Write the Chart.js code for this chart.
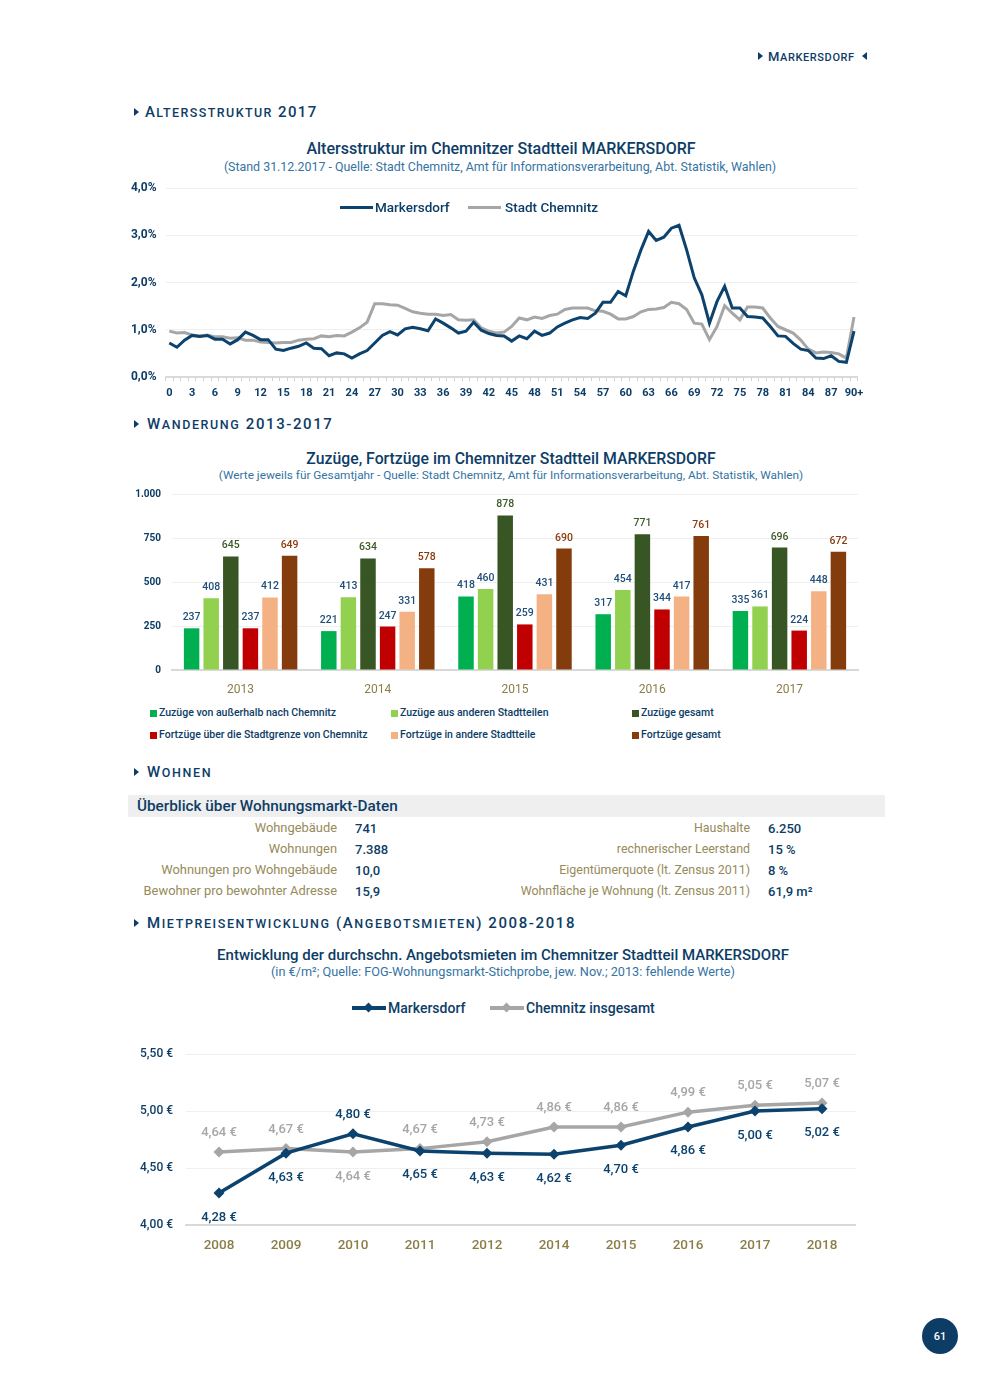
<!DOCTYPE html>
<html><head><meta charset="utf-8">
<script src="https://cdn.jsdelivr.net/npm/chart.js@4.4.1/dist/chart.umd.min.js"></script>
<style>
html,body{margin:0;padding:0;background:#fff;}
body{width:990px;height:1389px;position:relative;overflow:hidden;font-family:Roboto,"Open Sans",sans-serif;color:#0d3d66;}
.t{position:absolute;white-space:nowrap;line-height:1;}
.c{transform:translateX(-50%);}
.r{transform:translateX(-100%);}
.tri{position:absolute;width:0;height:0;border-top:4.5px solid transparent;border-bottom:4.5px solid transparent;border-left:5px solid #0d3d66;}
.tril{position:absolute;width:0;height:0;border-top:4.5px solid transparent;border-bottom:4.5px solid transparent;border-right:5px solid #0d3d66;}
.box{position:absolute;}
.sec{font-weight:500;letter-spacing:1.6px;}
.lbl{color:#968a5a;font-size:12.9px;}
.val{color:#0d3d66;font-size:13px;font-weight:500;}
.sq{position:absolute;width:7px;height:7px;}
.lg{font-size:10.5px;font-weight:500;color:#0d3d66;}
.sub{color:#3573a3;}
canvas{display:block;}
</style></head>
<body>
<script>
// ---------- DATA ----------
const ageLabels = ['0','1','2','3','4','5','6','7','8','9','10','11','12','13','14','15','16','17','18','19','20','21','22','23','24','25','26','27','28','29','30','31','32','33','34','35','36','37','38','39','40','41','42','43','44','45','46','47','48','49','50','51','52','53','54','55','56','57','58','59','60','61','62','63','64','65','66','67','68','69','70','71','72','73','74','75','76','77','78','79','80','81','82','83','84','85','86','87','88','89','90+'];
const markersdorfAnteil = [0.72,0.63,0.78,0.88,0.86,0.88,0.80,0.80,0.70,0.79,
 0.95,0.88,0.79,0.79,0.59,0.56,0.61,0.65,0.72,0.61,
 0.60,0.45,0.51,0.49,0.40,0.49,0.56,0.72,0.88,0.96,
 0.89,1.02,1.05,1.02,0.98,1.23,1.14,1.04,0.93,0.97,
 1.16,0.99,0.92,0.88,0.87,0.76,0.87,0.81,0.97,0.88,
 0.93,1.06,1.14,1.21,1.26,1.24,1.35,1.58,1.58,1.81,
 1.72,2.24,2.69,3.08,2.89,2.96,3.15,3.21,2.69,2.10,
 1.74,1.14,1.60,1.92,1.46,1.46,1.28,1.27,1.25,1.07,
 0.87,0.86,0.71,0.59,0.56,0.40,0.39,0.45,0.33,0.31,
 0.97];
const chemnitzAnteil = [0.97,0.93,0.94,0.89,0.87,0.89,0.85,0.85,0.82,0.83,
 0.78,0.78,0.74,0.73,0.72,0.73,0.73,0.78,0.80,0.81,
 0.87,0.85,0.88,0.87,0.95,1.04,1.16,1.55,1.55,1.53,
 1.52,1.45,1.38,1.35,1.33,1.33,1.30,1.32,1.21,1.20,
 1.21,1.04,0.97,0.93,0.95,1.07,1.25,1.21,1.27,1.24,
 1.30,1.33,1.43,1.46,1.46,1.46,1.40,1.39,1.33,1.23,
 1.23,1.28,1.38,1.43,1.44,1.47,1.58,1.55,1.43,1.14,
 1.12,0.79,1.07,1.51,1.35,1.21,1.48,1.48,1.46,1.25,
 1.07,1.00,0.93,0.78,0.59,0.51,0.53,0.52,0.49,0.40,
 1.27];

const wanderJahre = ['2013','2014','2015','2016','2017'];
const zuzuegeAussen = [237,221,418,317,335];
const zuzuegeStadtteile = [408,413,460,454,361];
const zuzuegeGesamt = [645,634,878,771,696];
const fortzuegeStadtgrenze = [237,247,259,344,224];
const fortzuegeStadtteile = [412,331,431,417,448];
const fortzuegeGesamt = [649,578,690,761,672];
const wanderSerien = ['Zuzüge von außerhalb nach Chemnitz','Zuzüge aus anderen Stadtteilen','Zuzüge gesamt',
 'Fortzüge über die Stadtgrenze von Chemnitz','Fortzüge in andere Stadtteile','Fortzüge gesamt'];

const mietJahre = ['2008','2009','2010','2011','2012','2014','2015','2016','2017','2018'];
const markersdorfMiete = [4.28,4.63,4.80,4.65,4.63,4.62,4.70,4.86,5.00,5.02];
const chemnitzMiete = [4.64,4.67,4.64,4.67,4.73,4.86,4.86,4.99,5.05,5.07];

const wohnLinks = [['Wohngebäude','741'],['Wohnungen','7.388'],['Wohnungen pro Wohngebäude','10,0'],['Bewohner pro bewohnter Adresse','15,9']];
const wohnRechts = [['Haushalte','6.250'],['rechnerischer Leerstand','15 %'],['Eigentümerquote (lt. Zensus 2011)','8 %'],['Wohnfläche je Wohnung (lt. Zensus 2011)','61,9 m²']];
</script>

<!-- header -->
<div class="tri" style="left:758px;top:51.5px"></div>
<div class="t sec" id="hdr" style="left:768px;top:49.5px;font-size:13px;letter-spacing:0.6px"></div>
<div class="tril" style="left:862px;top:51.5px"></div>

<!-- section headings -->
<div class="tri" style="left:134px;top:107.5px"></div>
<div class="t sec" data-sc="Altersstruktur 2017" style="left:145px;top:104.5px;font-size:15px;letter-spacing:1.4px"></div>
<div class="tri" style="left:134px;top:419.5px"></div>
<div class="t sec" data-sc="Wanderung 2013-2017" style="left:147px;top:416.5px;font-size:15px"></div>
<div class="tri" style="left:134px;top:767.5px"></div>
<div class="t sec" data-sc="Wohnen" style="left:147px;top:764.5px;font-size:15px"></div>
<div class="tri" style="left:134px;top:918.5px"></div>
<div class="t sec" data-sc="Mietpreisentwicklung (Angebotsmieten) 2008-2018" style="left:147px;top:915.5px;font-size:15px"></div>

<!-- chart 1 titles -->
<div class="t c" style="left:501px;top:141px;font-size:16px;font-weight:500">Altersstruktur im Chemnitzer Stadtteil MARKERSDORF</div>
<div class="t c sub" style="left:500px;top:161px;font-size:12.4px">(Stand 31.12.2017 - Quelle: Stadt Chemnitz, Amt für Informationsverarbeitung, Abt. Statistik, Wahlen)</div>
<div class="box" style="left:120px;top:180px;width:750px;height:225px"><canvas id="c1"></canvas></div>
<div class="box" style="left:340px;top:205.5px;width:33px;height:3px;background:#0c426e"></div>
<div class="t" style="left:375px;top:200.5px;font-size:13.5px;font-weight:500">Markersdorf</div>
<div class="box" style="left:468px;top:205.5px;width:33px;height:3px;background:#a6a6a6"></div>
<div class="t" style="left:505px;top:200.5px;font-size:13.5px;font-weight:500">Stadt Chemnitz</div>

<!-- chart 2 -->
<div class="t c" style="left:511px;top:451px;font-size:15.8px;font-weight:500">Zuzüge, Fortzüge im Chemnitzer Stadtteil MARKERSDORF</div>
<div class="t c sub" style="left:511px;top:470px;font-size:11.8px">(Werte jeweils für Gesamtjahr - Quelle: Stadt Chemnitz, Amt für Informationsverarbeitung, Abt. Statistik, Wahlen)</div>
<div class="box" style="left:120px;top:485px;width:750px;height:215px"><canvas id="c2"></canvas></div>
<div id="lg2"></div>

<!-- table -->
<div class="box" style="left:128px;top:795px;width:757px;height:22px;background:#efefef"></div>
<div class="t" style="left:137px;top:798.5px;font-size:15.3px;font-weight:500">Überblick über Wohnungsmarkt-Daten</div>
<div id="tbl"></div>

<!-- chart 3 -->
<div class="t c" style="left:503px;top:947.5px;font-size:15px;font-weight:500">Entwicklung der durchschn. Angebotsmieten im Chemnitzer Stadtteil MARKERSDORF</div>
<div class="t c sub" style="left:503px;top:966px;font-size:12.7px">(in €/m²; Quelle: FOG-Wohnungsmarkt-Stichprobe, jew. Nov.; 2013: fehlende Werte)</div>
<div class="box" style="left:352px;top:1006px;width:34px;height:4px;background:#0c426e"></div>
<div class="box" style="left:365px;top:1004px;width:7px;height:7px;background:#0c426e;transform:rotate(45deg)"></div>
<div class="t" style="left:388px;top:1001px;font-size:14px;font-weight:500">Markersdorf</div>
<div class="box" style="left:490px;top:1006px;width:34px;height:4px;background:#a6a6a6"></div>
<div class="box" style="left:503px;top:1004px;width:7px;height:7px;background:#a6a6a6;transform:rotate(45deg)"></div>
<div class="t" style="left:526px;top:1001px;font-size:14px;font-weight:500">Chemnitz insgesamt</div>
<div class="box" style="left:120px;top:1040px;width:750px;height:220px"><canvas id="c3"></canvas></div>

<!-- page number -->
<div class="box" style="left:922px;top:1318px;width:36px;height:36px;border-radius:50%;background:#0d3d66"></div>
<div class="t c" style="left:940px;top:1330.5px;font-size:11px;color:#fff;font-weight:500">61</div>

<script>
// small caps helper
function sc(el, text, big, small){
  let html='';
  for(const ch of text){
    if(ch>='a'&&ch<='z' || 'äöüß'.includes(ch)) html+='<span style="font-size:'+small+'px">'+ch.toUpperCase()+'</span>';
    else html+=ch;
  }
  el.innerHTML=html;
}
document.querySelectorAll('[data-sc]').forEach(el=>sc(el, el.dataset.sc, 15, 12.5));
sc(document.getElementById('hdr'), 'Markersdorf', 13, 11);

// table
(function(){
  const tb=document.getElementById('tbl'); let h='';
  const ys=[828,849,870,891];
  wohnLinks.forEach((r,i)=>{
    h+='<div class="t r lbl" style="left:337px;top:'+(ys[i]-6.5)+'px">'+r[0]+'</div>';
    h+='<div class="t val" style="left:355px;top:'+(ys[i]-6.5)+'px">'+r[1]+'</div>';
  });
  wohnRechts.forEach((r,i)=>{
    h+='<div class="t r lbl" style="left:750px;top:'+(ys[i]-6.5)+'px;font-size:12.4px">'+r[0]+'</div>';
    h+='<div class="t val" style="left:768px;top:'+(ys[i]-6.5)+'px">'+r[1]+'</div>';
  });
  tb.innerHTML=h;
})();

Chart.defaults.font.family = "Roboto, 'Open Sans', sans-serif";
Chart.defaults.color = '#0d3d66';
Chart.defaults.animation = false;

const NAVY='#0c426e', GREY='#a6a6a6';

// chart 1
new Chart(document.getElementById('c1'), {
  type:'line',
  data:{labels:ageLabels, datasets:[
    {label:'Markersdorf', data:markersdorfAnteil, borderColor:NAVY, borderWidth:3, pointRadius:0, tension:0},
    {label:'Stadt Chemnitz', data:chemnitzAnteil, borderColor:GREY, borderWidth:3, pointRadius:0, tension:0}
  ]},
  options:{responsive:true, maintainAspectRatio:false, animation:false,
    layout:{padding:{top:8,right:12.2,left:0,bottom:0}},
    plugins:{legend:{display:false}, tooltip:{enabled:false}},
    scales:{
      x:{offset:true,
        grid:{offset:true, drawOnChartArea:false, drawTicks:true, tickLength:4, color:'#d0d0d0'},
        border:{color:'#d9d9d9', width:2},
        ticks:{autoSkip:false, maxRotation:0, minRotation:0, padding:6, color:'#0d3d66', font:{size:11, weight:'bold'},
          callback:(v,i)=> i%3===0 ? ageLabels[i] : ''},
        afterFit(s){s.height=28;}},
      y:{min:0,max:4,
        ticks:{stepSize:1, padding:0, color:'#0d3d66', font:{size:12,weight:'bold'}, callback:v=>v.toFixed(1).replace('.',',')+'%'},
        grid:{color:'#efefef', drawTicks:true, tickLength:9, tickColor:'rgba(0,0,0,0)'}, border:{display:false},
        afterFit(s){s.width=45.5;}}
    }}
});

// chart 2
const barValues=[zuzuegeAussen,zuzuegeStadtteile,zuzuegeGesamt,fortzuegeStadtgrenze,fortzuegeStadtteile,fortzuegeGesamt];
const barColors=['#00b050','#92d050','#375623','#c00000','#f4b183','#843c0c'];
const barLabelColors=['#1f4e79','#1f4e79','#3b5a26','#1f4e79','#1f4e79','#8a3b0e'];
const barLabelPlugin={id:'barLabels', afterDatasetsDraw(chart){
  const ctx=chart.ctx;
  chart.data.datasets.forEach((ds,i)=>{
    const meta=chart.getDatasetMeta(i);
    ctx.save(); ctx.font="500 10.5px Roboto, sans-serif"; ctx.fillStyle=barLabelColors[i];
    ctx.textAlign='center'; ctx.textBaseline='alphabetic';
    meta.data.forEach((el,j)=>ctx.fillText(String(ds.data[j]), el.x, el.y-8));
    ctx.restore();
  });
}};
new Chart(document.getElementById('c2'), {
  type:'bar',
  data:{labels:wanderJahre, datasets:barValues.map((d,i)=>({label:wanderSerien[i], data:d, backgroundColor:barColors[i], borderWidth:0, categoryPercentage:0.857, barPercentage:0.79}))},
  options:{responsive:true, maintainAspectRatio:false, animation:false,
    layout:{padding:{top:9,right:12,left:0,bottom:0}},
    plugins:{legend:{display:false}, tooltip:{enabled:false}},
    scales:{
      x:{grid:{display:false}, border:{color:'#d9d9d9', width:2},
        ticks:{padding:5, color:'#8c7d48', font:{size:12}}, afterFit(s){s.height=30;}},
      y:{min:0,max:1000,
        ticks:{stepSize:250, padding:0, color:'#0d3d66', font:{size:10,weight:'bold'}, callback:v=> v===1000?'1.000':String(v)},
        grid:{color:'#efefef', drawTicks:true, tickLength:11, tickColor:'rgba(0,0,0,0)'}, border:{display:false}, afterFit(s){s.width=52;}}
    }},
  plugins:[barLabelPlugin]
});
(function(){
  const lg=document.getElementById('lg2'); let h='';
  const xs=[150,391,632], ys=[713,735];
  wanderSerien.forEach((s,i)=>{
    const x=xs[i%3], y=ys[Math.floor(i/3)];
    h+='<div class="sq" style="left:'+x+'px;top:'+(y-3.5)+'px;background:'+barColors[i]+'"></div>';
    h+='<div class="t lg" style="left:'+(x+9)+'px;top:'+(y-5)+'px">'+s+'</div>';
  });
  lg.innerHTML=h;
})();

// chart 3
const euro=v=>v.toFixed(2).replace('.',',')+' €';
const mietLabelPlugin={id:'mietLabels', afterDatasetsDraw(chart){
  const ctx=chart.ctx; const dss=chart.data.datasets;
  dss.forEach((ds,i)=>{
    const meta=chart.getDatasetMeta(i); const other=dss[1-i].data;
    ctx.save(); ctx.font="500 13px Roboto, sans-serif"; ctx.fillStyle=ds.borderColor;
    ctx.textAlign='center'; ctx.textBaseline='alphabetic';
    meta.data.forEach((el,j)=>{
      const above = ds.data[j] > other[j];
      ctx.fillText(euro(ds.data[j]), el.x, above ? el.y-16 : el.y+27.5);
    });
    ctx.restore();
  });
}};
new Chart(document.getElementById('c3'), {
  type:'line',
  data:{labels:mietJahre, datasets:[
    {label:'Markersdorf', data:markersdorfMiete, borderColor:NAVY, backgroundColor:NAVY, borderWidth:3.5, pointStyle:'rectRot', pointRadius:5.5, pointBorderWidth:0, tension:0},
    {label:'Chemnitz insgesamt', data:chemnitzMiete, borderColor:GREY, backgroundColor:GREY, borderWidth:3.5, pointStyle:'rectRot', pointRadius:5.5, pointBorderWidth:0, tension:0}
  ]},
  options:{responsive:true, maintainAspectRatio:false, animation:false,
    layout:{padding:{top:14,right:14.5,left:0,bottom:0}},
    plugins:{legend:{display:false}, tooltip:{enabled:false}},
    scales:{
      x:{offset:true, grid:{display:false}, border:{color:'#d9d9d9', width:2},
        ticks:{padding:5, color:'#8c7d48', font:{size:13.5, weight:'500'}}, afterFit(s){s.height=35;}},
      y:{min:4,max:5.5,
        ticks:{stepSize:0.5, padding:0, color:'#0d3d66', font:{size:12,weight:'500'}, callback:v=>euro(v)},
        grid:{color:'#efefef', drawTicks:true, tickLength:12.5, tickColor:'rgba(0,0,0,0)'}, border:{display:false}, afterFit(s){s.width=65.5;}}
    }},
  plugins:[mietLabelPlugin]
});
</script>
</body></html>
